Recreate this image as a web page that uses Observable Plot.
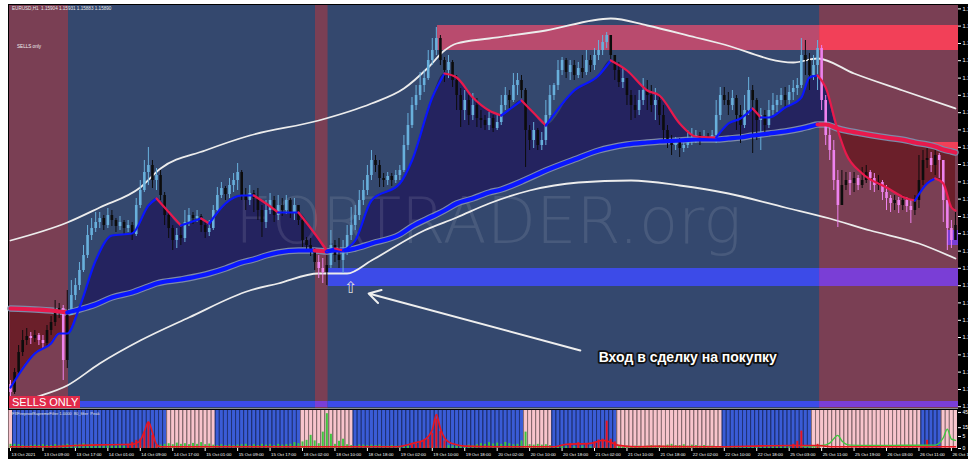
<!DOCTYPE html>
<html><head><meta charset="utf-8">
<script src="https://cdn.jsdelivr.net/npm/d3@7"></script>
<script src="https://cdn.jsdelivr.net/npm/@observablehq/plot@0.6"></script>
<style>
html,body{margin:0;padding:0;background:#fff;}
#wrap{position:relative;width:968px;height:459px;background:#000;overflow:hidden;font-family:"Liberation Sans",Arial,sans-serif;}
#wrap svg{position:absolute;left:0;}
.ov{position:absolute;white-space:nowrap;line-height:1;}
</style></head><body>
<div id="wrap">
  <div class="ov" style="left:0;top:0;width:8px;height:459px;background:#fff"></div>
  <div class="ov" style="left:0;top:0;width:968px;height:4px;background:#fff"></div>
</div>
<script>
// ---------- DATA (EURUSD H1, 13–26 Oct 2021) ----------
const firstOpen = 1.1510;
const closes = [1.1506,1.1516,1.1526,1.1532,1.1534,1.1533,1.15345,1.1532,1.15305,1.1537,
1.1541,1.1546,1.1548,1.1522,1.15445,1.15545,1.15595,1.1567,1.15745,1.15845,
1.1588,1.1591,1.1593,1.15895,1.15945,1.1592,1.1589,1.1591,1.1588,1.15895,
1.1585,1.15995,1.1607,1.1616,1.16195,1.1612,1.16145,1.16045,1.15945,1.1588,
1.1582,1.15845,1.1583,1.1591,1.15945,1.1593,1.1594,1.15895,1.1586,1.1588,
1.1597,1.16045,1.1608,1.1605,1.16095,1.1612,1.1616,1.16045,1.1602,1.16055,
1.1603,1.1597,1.1591,1.1597,1.1602,1.15945,1.15995,1.1597,1.1602,1.1596,
1.15995,1.1592,1.1582,1.15795,1.1577,1.1571,1.1568,1.1566,1.15695,1.15795,
1.15745,1.1572,1.1577,1.15845,1.15895,1.15945,1.1602,1.1607,1.16145,1.1622,
1.16195,1.1613,1.1612,1.1614,1.1612,1.16145,1.1617,1.16295,1.16395,1.16495,
1.16545,1.16595,1.1663,1.1672,1.1677,1.1683,1.1672,1.1667,1.1671,1.1662,
1.16545,1.1647,1.1652,1.16445,1.16495,1.1643,1.1642,1.16395,1.1643,1.1638,
1.1641,1.16495,1.16545,1.1652,1.16595,1.1662,1.1657,1.1637,1.1632,1.1637,
1.16295,1.1632,1.16445,1.16545,1.16595,1.1667,1.1672,1.1666,1.16695,1.16645,
1.1668,1.1666,1.1672,1.16695,1.16745,1.1677,1.1681,1.16845,1.16745,1.1667,
1.1661,1.1663,1.16545,1.16495,1.1647,1.1652,1.1657,1.16545,1.16495,1.1652,
1.16445,1.1637,1.1632,1.16295,1.1631,1.1628,1.16295,1.1632,1.1633,1.16345,
1.1633,1.1634,1.1633,1.16345,1.16445,1.16545,1.1652,1.16495,1.1653,1.16445,
1.16395,1.1647,1.1657,1.1652,1.1642,1.16445,1.16395,1.1647,1.16495,1.1652,
1.16545,1.1652,1.1656,1.1658,1.16595,1.16745,1.1672,1.16645,1.16695,1.1678,
1.1652,1.16345,1.1627,1.1612,1.15995,1.16095,1.1612,1.16105,1.1613,1.16095,
1.1612,1.1616,1.1613,1.16095,1.1611,1.1606,1.1603,1.16005,1.1602,1.15995,
1.1602,1.1599,1.1597,1.1602,1.1612,1.1622,1.1623,1.16195,1.16245,1.1622,
1.1602,1.1588,1.1582,1.15895];
const highs = [1.1512,1.1518,1.15295,1.1537,1.1538,1.1536,1.1537,1.15355,1.15345,1.15395,
1.1544,1.1552,1.15505,1.15495,1.1557,1.1562,1.1563,1.1571,1.15795,1.15895,
1.1593,1.1596,1.1596,1.15945,1.1598,1.1597,1.1593,1.1594,1.1592,1.1592,
1.1591,1.1603,1.1612,1.1622,1.16285,1.1622,1.1618,1.1617,1.1606,1.1597,
1.15895,1.1588,1.15895,1.1597,1.1598,1.1596,1.1597,1.1595,1.1591,1.1592,
1.15995,1.16085,1.1611,1.1609,1.1613,1.16155,1.16205,1.1617,1.1608,1.16095,
1.1607,1.1608,1.15995,1.1602,1.16055,1.1604,1.16045,1.1603,1.16045,1.1603,
1.1603,1.15995,1.1593,1.15835,1.1583,1.1578,1.15745,1.1573,1.15745,1.1587,
1.1582,1.1583,1.1582,1.15895,1.15985,1.15995,1.1607,1.1612,1.16195,1.1627,
1.16245,1.1622,1.16155,1.1616,1.16155,1.1617,1.16195,1.16345,1.16455,1.16535,
1.16595,1.1666,1.1667,1.1677,1.1683,1.16885,1.16845,1.16735,1.16745,1.1672,
1.16645,1.1658,1.1657,1.16545,1.16555,1.1653,1.1647,1.16445,1.1646,1.16445,
1.16455,1.16545,1.16585,1.1657,1.16655,1.16655,1.16645,1.1658,1.16395,1.1641,
1.1638,1.1636,1.1652,1.16595,1.16605,1.1672,1.16735,1.1673,1.1672,1.1672,
1.1671,1.16745,1.1677,1.16745,1.1678,1.1682,1.16845,1.1686,1.16845,1.16745,
1.1671,1.1668,1.1662,1.1657,1.16545,1.1657,1.1663,1.1662,1.16595,1.1658,
1.16545,1.16495,1.16395,1.16345,1.16335,1.1633,1.1633,1.1637,1.1638,1.1637,
1.1636,1.1637,1.16355,1.1637,1.1652,1.16585,1.16585,1.1656,1.1657,1.16545,
1.16495,1.16545,1.16635,1.16595,1.1653,1.1648,1.1647,1.1652,1.16555,1.16545,
1.1658,1.16585,1.16595,1.1662,1.1663,1.1683,1.1682,1.16755,1.16745,1.1682,
1.16795,1.16545,1.16385,1.1632,1.1617,1.1617,1.1616,1.1616,1.1616,1.16145,
1.16185,1.16195,1.1617,1.16155,1.16145,1.1612,1.16095,1.16045,1.16045,1.16035,
1.16045,1.16035,1.1602,1.16045,1.16245,1.1627,1.1628,1.1626,1.1627,1.16255,
1.16195,1.1597,1.1592,1.1596];
const lows = [1.1503,1.1505,1.15145,1.1524,1.15295,1.153,1.1531,1.15295,1.1528,1.1529,
1.15345,1.1539,1.1543,1.1512,1.1518,1.15445,1.1552,1.1557,1.1566,1.1573,
1.1582,1.1586,1.1588,1.1587,1.1588,1.1589,1.1586,1.1587,1.1585,1.1586,
1.1582,1.1584,1.1598,1.1606,1.16095,1.1608,1.1607,1.1602,1.15895,1.1583,
1.1577,1.1578,1.15795,1.1581,1.1589,1.159,1.1591,1.1586,1.1583,1.1584,
1.1587,1.1596,1.1603,1.1602,1.1603,1.1606,1.1607,1.1602,1.1597,1.15995,
1.1596,1.1592,1.15835,1.1588,1.1595,1.1591,1.1592,1.1594,1.1595,1.1593,
1.1592,1.15895,1.15785,1.1576,1.1574,1.1567,1.1563,1.15605,1.15595,1.1568,
1.1571,1.1568,1.15655,1.15745,1.1582,1.1587,1.1592,1.15995,1.16045,1.1612,
1.1616,1.16085,1.16085,1.16095,1.1609,1.16105,1.1612,1.1616,1.1627,1.1638,
1.1647,1.1652,1.1656,1.1662,1.16695,1.16745,1.16695,1.1661,1.1663,1.16585,
1.1647,1.16385,1.1642,1.16395,1.1642,1.16385,1.1638,1.1637,1.1637,1.1636,
1.1637,1.16395,1.1647,1.1648,1.1651,1.16545,1.1653,1.16185,1.1627,1.1628,
1.1627,1.1627,1.16295,1.1642,1.1652,1.1657,1.16645,1.1663,1.1662,1.1662,
1.1663,1.1663,1.16645,1.1666,1.1667,1.1672,1.16745,1.1678,1.1672,1.1662,
1.16585,1.1658,1.16495,1.1642,1.1643,1.16445,1.16495,1.1647,1.1646,1.1642,
1.16395,1.1632,1.1628,1.16245,1.1627,1.16235,1.1626,1.1628,1.16295,1.16305,
1.16295,1.1632,1.16315,1.1632,1.16305,1.1642,1.16495,1.16445,1.1647,1.1637,
1.16305,1.1638,1.16445,1.16255,1.1632,1.1627,1.16345,1.1638,1.16445,1.1646,
1.16495,1.1648,1.16495,1.1652,1.16545,1.1658,1.16645,1.1657,1.1662,1.1657,
1.1647,1.16295,1.1622,1.1607,1.15885,1.1602,1.1607,1.16045,1.1606,1.1607,
1.1608,1.16105,1.1607,1.1606,1.1607,1.1602,1.1597,1.1596,1.1597,1.15955,
1.1597,1.1596,1.15905,1.15945,1.1598,1.16095,1.1618,1.1616,1.16145,1.1613,
1.1591,1.1577,1.1578,1.1582];

// regime zones in bar-index units (sell = maroon background)
const sellZones = [[-0.5, 14.3], [75.2, 78.3], [199.5, 233.75]];

// moving averages sampled at bar indices
const maIdx = [0,6,10,12,14,17,21,25,30,34,36,42,47,49,53,57,60,63,66,71,75,78,80,82,85,89,96,99,104,107,110,114,118,121,126,132,139,145,148,152,157,160,165,169,174,177,180,183,185,187,191,195,197,199,201,204,206,210,216,221,223,226,228,230,232,233];
const fastMA = [1.15085,1.15255,1.15305,1.15355,1.15355,1.15485,1.1572,1.15845,1.15855,1.15995,
1.1603,1.15895,1.1593,1.15905,1.16005,1.16045,1.16045,1.16005,1.1596,1.1596,
1.15855,1.1577,1.1578,1.1577,1.1582,1.1602,1.16105,1.1622,1.16535,1.16655,
1.16635,1.16535,1.1647,1.16445,1.1652,1.16395,1.1657,1.16645,1.1672,1.1667,
1.1657,1.16545,1.16405,1.1634,1.16335,1.16405,1.1643,1.1648,1.16435,1.16435,
1.16485,1.16535,1.16635,1.16645,1.16585,1.1637,1.16255,1.16155,1.16085,1.1603,
1.1602,1.16105,1.1613,1.16105,1.15985,1.1597];
const slowMA = [1.1548,1.15475,1.1547,1.15465,1.1546,1.15475,1.155,1.15535,1.1556,1.1559,
1.15605,1.15625,1.15645,1.15655,1.1568,1.1571,1.15725,1.15745,1.1576,1.1577,
1.1577,1.15765,1.1577,1.1577,1.1578,1.15805,1.1585,1.1589,1.1594,1.1597,
1.16005,1.1603,1.1606,1.16075,1.16115,1.1617,1.16225,1.1627,1.16285,1.163,
1.1631,1.16315,1.1632,1.16325,1.16325,1.1633,1.16335,1.16345,1.1635,1.16355,
1.16365,1.1638,1.1639,1.164,1.164,1.1638,1.1637,1.16355,1.16335,1.1632,
1.1631,1.163,1.1629,1.16275,1.16265,1.1626];

// envelope bands
const upperIdx = [0,14,22,32,37,48,59,76,89,97,103,107,110,118,132,148,157,169,175,193,199,208,220,233];
const upperBand = [1.1582,1.1591,1.15985,1.16085,1.1618,1.1627,1.16345,1.1642,1.16505,1.1658,1.16685,1.1677,1.16805,1.1683,1.1687,1.1693,1.16895,1.16835,1.16805,1.1671,1.1673,1.16655,1.1657,1.1648];
const lowerIdx = [0,6,14,22,32,44,59,66,76,83,89,102,110,118,128,140,153,165,177,191,202,212,224,233];
const lowerBand = [1.14995,1.15035,1.15095,1.15205,1.1532,1.15435,1.1557,1.15605,1.15655,1.15655,1.1572,1.1587,1.15935,1.16005,1.1607,1.1611,1.1612,1.16095,1.16055,1.15985,1.1593,1.1587,1.15805,1.1573];

// horizontal zones: [fromBar, toBar, lowPrice, highPrice]
const resistanceZone = [105.3, 233.75, 1.1677, 1.16895];
const supportZone = [78.4, 233.75, 1.1559, 1.1568];
const floorZone = [-0.25, 233.75, 1.14985, 1.15015];
const minorResZone = [227.3, 233.75, 1.1626, 1.1631];
const minorSupZone = [231, 233.75, 1.15795, 1.1587];

// price axis ticks (labels clipped at the right edge, as in the source)
const priceTicks = [1.16978,1.16892,1.16805,1.16719,1.16632,1.16546,1.16459,1.16373,1.16286,1.162,1.16113,1.16027,1.1594,1.15854,1.15767,1.15681,1.15594,1.15508,1.15421,1.15335,1.15248,1.15162,1.15075,1.14989];

// time axis
const timeTickIdx = [0,8,16,24,32,40,48,56,64,72,80,88,96,104,112,120,128,136,144,152,160,168,176,184,192,200,208,216,224,232];
const timeTickLabels = ["13 Oct 2021","13 Oct 09:00","13 Oct 17:00","14 Oct 01:00","14 Oct 09:00","14 Oct 17:00","15 Oct 01:00","15 Oct 09:00","15 Oct 17:00","18 Oct 02:00","18 Oct 10:00","18 Oct 18:00","19 Oct 02:00","19 Oct 10:00","19 Oct 18:00","20 Oct 02:00","20 Oct 10:00","20 Oct 18:00","21 Oct 02:00","21 Oct 10:00","21 Oct 18:00","22 Oct 02:00","22 Oct 10:00","22 Oct 18:00","25 Oct 03:00","25 Oct 11:00","25 Oct 19:00","26 Oct 03:00","26 Oct 11:00","26 Oct 19:00"];

// indicator (FXFireproofSupremeFilter)
const filterPinkRanges = [[0,0],[39,50],[72,84],[127,133],[150,175],[198,224],[230,233]];
const greenBars = [0.6,0.6,0.5,0.3,0.2,0.3,0.4,0.3,0.5,0.3,
0.3,0.5,0.3,0.4,0.6,0.3,0.5,0.6,0.8,0.5,
0.6,0.4,0.3,0.2,0.3,0.2,0.2,0.3,0.2,0.2,
0.2,0.2,0.2,0.1,0.1,0.1,0.2,0.4,0.6,0.8,
0.5,1.0,0.6,0.8,0.5,0.9,0.6,1.2,0.5,0.7,
0.4,0.3,0.5,0.3,0.4,0.3,0.4,0.5,0.6,0.3,
0.5,0.3,0.6,0.4,0.5,0.3,0.6,0.4,0.5,0.6,
1.2,0.8,1.5,2.3,6,2,0.8,9.3,42,7,
0.6,1.8,3,0.5,0.3,0.2,0.4,0.4,0.3,0.4,
0.3,0.4,0.2,0.2,0.3,0.2,0.2,0.1,0.2,0.2,
0.2,0.1,0.2,0.3,0.2,0.1,0.2,0.2,0.3,0.2,
0.2,0.3,0.2,0.4,0.3,0.5,0.8,0.6,1.2,0.7,
1.0,0.6,1.3,0.8,0.5,0.6,2,9.3,0.5,0.4,
0.6,0.4,0.5,0.3,0.1,0.1,0.2,0.1,0.1,0.1,
0.1,0.2,0.1,0.1,0.1,0.2,0.1,0.1,0.2,0.1,
0.2,0.1,0.2,0.1,0.2,0.2,0.1,0.2,0.3,0.2,
0.3,0.2,0.4,0.6,0.3,0.3,0.5,0.2,0.4,0.3,
0.2,0.3,0.2,0.2,0.1,0.1,0.1,0.1,0.1,0.1,
0.1,0.1,0.1,0.1,0.1,0.1,0.1,0.1,0.1,0.1,
0.1,0.1,0.1,0.1,0.1,0.1,0.1,0.1,0.1,0.1];
const greenLineIdx = [195,200,202,204,205,207,212,220,228,230,231,232,233];
const greenLineVal = [0.2,0.3,1,6,2,0.4,0.3,0.35,0.4,4,13,3,2.3];
const redLineIdx = [0,10,16,22,28,30,31,32,33,34,35,36,37,50,70,90,95,98,100,102,103,104,105,106,107,108,110,112,120,134,137,143,146,148,150,154,159,170,193,199,203,233];
const redLineVal = [0.1,0.1,0.3,0.45,0.55,0.6,1.0,2.3,10,24.7,9,0.6,0.1,0.1,0.1,0.1,0.1,0.5,1.2,2.5,5,12,40,14,4,1.5,0.5,0.2,0.1,0.1,0.6,0.9,2.3,1.3,0.33,0.1,0.15,0.1,0.3,0.3,0.1,0.1];
const redBarIdx = [29,30,31,32,33,34,35,36,99,100,101,102,103,104,105,106,107,138,140,142,144,145,146,147,148,149,193,194,195,199,225,226];
const redBarVal = [0.6,1.3,2.3,3,9.3,23,6,0.3,0.3,0.6,1.3,2.3,3,8,30,10,2,0.8,1.2,0.8,1.5,2.5,3,26,3,1.5,0.6,1.8,10.5,0.6,0.3,2.3];
const filterTicks = [45,15,5,0];

// annotations (bar index, price)
const watermark = {i: 117.8, p: 1.1591, text: "FORTRADER.org"};
const entryNote = {i: 167, p: 1.15235, text: "Вход в сделку на покупку"};
const entryArrow = {i1: 140.5, p1: 1.1527, i2: 88.3, p2: 1.15555};
const entryMark = {i: 83.8, p: 1.15585, text: "⇧"};

// ---------- RENDER ----------
const X_DOMAIN = [-0.25, 233.75];
const PRICE_DOMAIN = [1.1498, 1.16995];
const C = {
  navy: "#34486e", maroon: "#7a3f54", navyFill: "#24235f", redFill: "#6b1f2a",
  candleUp: "#68b0dc", candleBlack: "#0c0c0c", candleDown: "#ee82ee",
  maBlue: "#0a16ff", maRed: "#e8194c", slowEdge: "#7d8aa8", band: "#ececec",
  resBuy: "#b94b6e", resSell: "#f24058", supBuy: "#3c4be8", supSell: "#7a3ed6",
  fBlue: "#3a5cd6", fPink: "#f8c4cc", fGreen: "#3fc63f", fRed: "#ea1520"
};
const inSell = i => sellZones.some(([a, b]) => i >= a && i <= b);

const candles = closes.map((c, i) => {
  const o = i ? closes[i - 1] : firstOpen;
  const up = c >= o, sell = inSell(i);
  return {i, o, c, h: Math.max(highs[i], o, c), l: Math.min(lows[i], o, c),
    col: sell ? (up ? C.candleBlack : C.candleDown) : (up ? C.candleUp : C.candleBlack)};
});

function runs(idx, vals, colorOf) {
  const rows = []; let s = -1, prev = null;
  for (let j = 0; j < idx.length - 1; j++) {
    const col = colorOf(j);
    if (col !== prev) { s++; prev = col; rows.push({i: idx[j], v: vals[j], s, col}); }
    rows.push({i: idx[j + 1], v: vals[j + 1], s, col});
  }
  return rows;
}
const fastRows = runs(maIdx, fastMA, j => fastMA[j + 1] >= fastMA[j] ? C.maBlue : C.maRed);
const slowRows = runs(maIdx, slowMA, j => inSell((maIdx[j] + maIdx[j + 1]) / 2) ? C.maRed : C.maBlue);
const maRows = maIdx.map((i, k) => ({i, fast: fastMA[k], slow: slowMA[k]}));

function splitZone(z, buyCol, sellCol) {
  const [from, to, lo, hi] = z;
  const cuts = [from, to];
  sellZones.forEach(([a, b]) => { if (a > from && a < to) cuts.push(a); if (b > from && b < to) cuts.push(b); });
  cuts.sort((a, b) => a - b);
  const out = [];
  for (let k = 0; k < cuts.length - 1; k++) {
    const mid = (cuts[k] + cuts[k + 1]) / 2;
    out.push({x1: cuts[k], x2: cuts[k + 1], y1: lo, y2: hi, col: inSell(mid) ? sellCol : buyCol});
  }
  return out;
}
const zoneRects = [
  ...splitZone(resistanceZone, C.resBuy, C.resSell),
  ...splitZone(supportZone, C.supBuy, C.supSell),
  ...splitZone(floorZone, C.supBuy, C.supSell),
  ...splitZone(minorResZone, C.resSell, C.resSell),
  ...splitZone(minorSupZone, C.supSell, C.supSell)
];
const sellRects = sellZones.map(([a, b]) => ({x1: Math.max(a, X_DOMAIN[0]), x2: Math.min(b, X_DOMAIN[1])}));

const main = Plot.plot({
  width: 968, height: 409, marginLeft: 9, marginRight: 10, marginTop: 5, marginBottom: 1,
  x: {domain: X_DOMAIN, axis: null},
  y: {domain: PRICE_DOMAIN, axis: null},
  color: {type: "identity"},
  style: {background: "transparent", overflow: "hidden", fontFamily: "Liberation Sans, Arial, sans-serif"},
  marks: [
    Plot.rect([{x1: X_DOMAIN[0], x2: X_DOMAIN[1]}], {x1: "x1", x2: "x2", y1: PRICE_DOMAIN[0], y2: PRICE_DOMAIN[1], fill: C.navy}),
    Plot.rect(sellRects, {x1: "x1", x2: "x2", y1: PRICE_DOMAIN[0], y2: PRICE_DOMAIN[1], fill: C.maroon}),
    Plot.rect(zoneRects, {x1: "x1", x2: "x2", y1: "y1", y2: "y2", fill: "col"}),
    Plot.areaY(maRows, {x: "i", y1: "slow", y2: d => Math.max(d.fast, d.slow), fill: C.navyFill, curve: "monotone-x"}),
    Plot.areaY(maRows, {x: "i", y1: "slow", y2: d => Math.min(d.fast, d.slow), fill: C.redFill, curve: "monotone-x"}),
    Plot.text([watermark], {x: "i", y: "p", text: "text", fontSize: 64, fontWeight: 200, fontFamily: "DejaVu Sans", fill: "#ffffff", fillOpacity: 0.1}),
    Plot.line(upperIdx.map((i, k) => ({i, v: upperBand[k]})), {x: "i", y: "v", stroke: C.band, strokeWidth: 1.8, curve: "monotone-x"}),
    Plot.line(lowerIdx.map((i, k) => ({i, v: lowerBand[k]})), {x: "i", y: "v", stroke: C.band, strokeWidth: 1.8, curve: "monotone-x"}),
    Plot.line(maRows, {x: "i", y: "slow", stroke: C.slowEdge, strokeWidth: 6.5, curve: "monotone-x"}),
    Plot.ruleX(candles, {x: "i", y1: "l", y2: "h", stroke: "col", strokeWidth: 1}),
    Plot.ruleX(candles, {x: "i", y1: "o", y2: "c", stroke: "col", strokeWidth: 2.6}),
    Plot.line(slowRows, {x: "i", y: "v", z: "s", stroke: "col", strokeWidth: 4.2, curve: "monotone-x"}),
    Plot.line(fastRows, {x: "i", y: "v", z: "s", stroke: "col", strokeWidth: 2.2, curve: "monotone-x"}),
    Plot.arrow([entryArrow], {x1: "i1", y1: "p1", x2: "i2", y2: "p2", stroke: "#eeeeee", strokeWidth: 2, headLength: 10}),
    Plot.text([entryMark], {x: "i", y: "p", text: "text", fontSize: 16, fill: "#dcdcdc", fontFamily: "DejaVu Sans"}),
    Plot.text([entryNote], {x: "i", y: "p", text: "text", fontSize: 14, fontWeight: "bold", fill: "#ffffff", stroke: "#111111", strokeWidth: 3.5, paintOrder: "stroke", fontFamily: "Liberation Sans"}),
    Plot.ruleY(priceTicks, {y: d => d, stroke: "#ffffff", insetLeft: 949, insetRight: -3}),
    Plot.text(priceTicks, {y: d => d, frameAnchor: "right", dx: 4, textAnchor: "start", text: d => d.toFixed(5), fill: "#ffffff", fontSize: 5.5})
  ]
});
main.style.top = "0px";

const filterBars = d3.range(closes.length).map(i => ({i, pink: filterPinkRanges.some(([a, b]) => i >= a && i <= b)}));
const ind = Plot.plot({
  width: 968, height: 50, marginLeft: 9, marginRight: 10, marginTop: 1, marginBottom: 11,
  x: {domain: X_DOMAIN, axis: null},
  y: {type: "sqrt", domain: [0, 50], axis: null},
  color: {type: "identity"},
  style: {background: "transparent", overflow: "hidden", fontFamily: "Liberation Sans, Arial, sans-serif"},
  marks: [
    Plot.rect(filterBars, {x1: d => d.i - 0.5, x2: d => d.i + 0.5, y1: 0, y2: 50, fill: d => d.pink ? C.fPink : C.fBlue}),
    Plot.ruleX(filterBars, {x: d => d.i - 0.5, stroke: "#000000", strokeOpacity: 0.55, strokeWidth: 0.8}),
    Plot.ruleX(greenBars.map((v, i) => ({i, v})), {x: "i", y1: 0, y2: "v", stroke: C.fGreen, strokeWidth: 2}),
    Plot.ruleX(redBarIdx.map((i, k) => ({i, v: redBarVal[k]})), {x: "i", y1: 0, y2: "v", stroke: C.fRed, strokeWidth: 2}),
    Plot.line(greenLineIdx.map((i, k) => ({i, v: greenLineVal[k]})), {x: "i", y: "v", stroke: C.fGreen, strokeWidth: 1.4, curve: "monotone-x"}),
    Plot.line(redLineIdx.map((i, k) => ({i, v: redLineVal[k]})), {x: "i", y: "v", stroke: C.fRed, strokeWidth: 1.6, curve: "monotone-x"}),
    Plot.ruleX(timeTickIdx, {x: d => d, stroke: "#ffffff", insetTop: 38, insetBottom: -3}),
    Plot.text(timeTickIdx.map((i, k) => ({i, t: timeTickLabels[k]})), {x: "i", frameAnchor: "bottom", dy: 7, dx: 1, textAnchor: "start", text: "t", fill: "#ffffff", fontSize: 4.4}),
    Plot.ruleY(filterTicks, {y: d => d, stroke: "#ffffff", insetLeft: 949, insetRight: -3}),
    Plot.text(filterTicks, {y: d => d, frameAnchor: "right", dx: 4, textAnchor: "start", text: d => String(d), fill: "#ffffff", fontSize: 5})
  ]
});
ind.style.top = "409px";

const wrap = document.getElementById("wrap");
wrap.appendChild(main);
wrap.appendChild(ind);

function overlay(html, css) { const d = document.createElement("div"); d.className = "ov"; d.style.cssText = css; d.innerHTML = html; wrap.appendChild(d); }
overlay("", "left:9px;top:408px;width:949px;height:1px;background:#8a8a8a");
overlay("EURUSD,H1&nbsp; 1.15904 1.15931 1.15883 1.15890", "left:12px;top:7px;font-size:4.6px;color:#e6e6e6");
overlay("SELLS only", "left:17px;top:45px;font-size:4.6px;color:#f0f0f0");
overlay("SELLS ONLY", "left:9px;top:396px;width:68px;height:12px;padding-left:3px;background:#e02a4a;color:#fff;font-size:11px;line-height:12px");
overlay("FXFireproofSupremeFilter 1.0000&nbsp; 80_filter&nbsp; Peak", "left:12px;top:412px;font-size:4px;color:#e0e0e0");
</script>
</body></html>
